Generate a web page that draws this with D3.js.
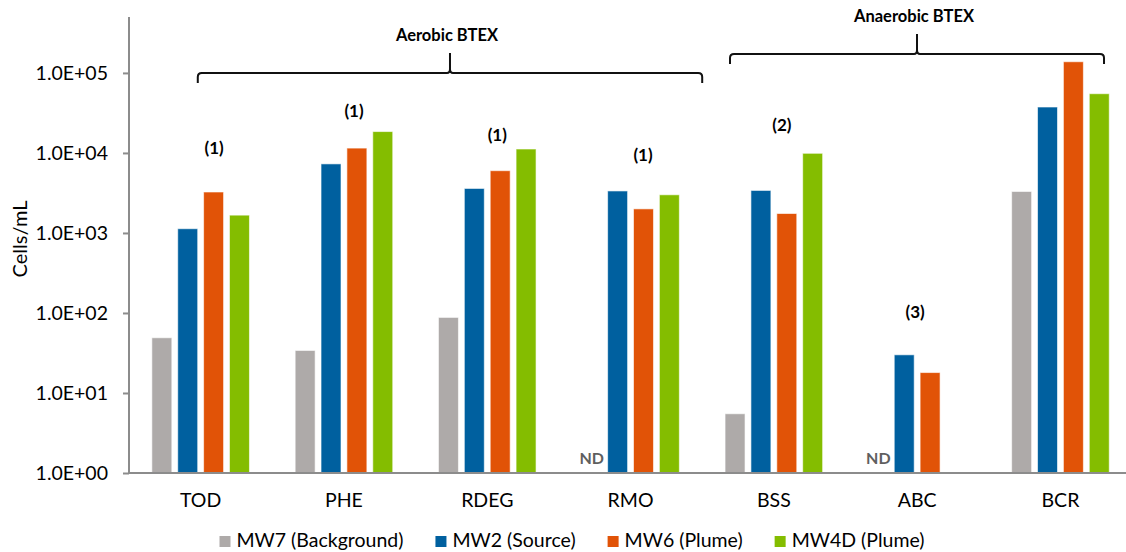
<!DOCTYPE html>
<html><head><meta charset="utf-8">
<script src="https://cdn.jsdelivr.net/npm/d3@7"></script>
<style>body{margin:0;background:#fff}svg{display:block}text{font-family:Lato,"Open Sans",sans-serif}</style>
</head><body><svg id="c" width="1126" height="552"></svg>
<script>
const categories = ["TOD","PHE","RDEG","RMO","BSS","ABC","BCR"];
const seriesNames = ["MW7 (Background)","MW2 (Source)","MW6 (Plume)","MW4D (Plume)"];
const seriesColors = ["#aeaaa9","#00609f","#e15307","#84bd00"];
// null = ND / not shown
const mw7  = [49, 34, 88, null, 5.5, null, 3300];
const mw2  = [1130, 7300, 3600, 3350, 3400, 30, 37500];
const mw6  = [3250, 11500, 6000, 2000, 1750, 18, 138000];
const mw4d = [1670, 18500, 11200, 3000, 9900, null, 55000];
const ndLabels = [null, null, null, "ND", null, "ND", null];
const tickValues = [1, 10, 100, 1000, 10000, 100000];
const tickLabels = ["1.0E+00","1.0E+01","1.0E+02","1.0E+03","1.0E+04","1.0E+05"];
const noteCats = ["TOD","PHE","RDEG","RMO","BSS","ABC"];
const noteText = ["(1)","(1)","(1)","(1)","(2)","(3)"];
const noteLevel = [10900, 31600, 15800, 8900, 21100, 97];
const noteShift = [0.094, 0.07, 0.07, 0.087, 0.056, -0.014];
const groupNames = ["Aerobic BTEX","Anaerobic BTEX"];
const groupStart = ["TOD","BSS"], groupStartFrac = [0.48, 0.194];
const groupEnd = ["RMO","BCR"], groupEndFrac = [1.0, 0.804];
const groupLevel = [100000, 172000];

const seriesValues = [mw7, mw2, mw6, mw4d];
const svg = d3.select("#c");
const L = 129, B = 473, T = 17;
const x = d3.scaleBand().domain(categories).range([L, L + 7*143.3]).padding(0);
const inner = 143.3 - 2*22.85;
const x1 = d3.scaleBand().domain(d3.range(4)).range([22.85, 22.85 + inner]).paddingInner(0.228).paddingOuter(0);
const y = d3.scaleLog().domain([1, 5e5]).range([B, T]);

// y axis
const yAxis = d3.axisLeft(y).tickValues(tickValues).tickFormat((d,i)=>tickLabels[i]).tickSize(6).tickPadding(15);
const ga = svg.append("g").attr("transform",`translate(${L},0)`).call(yAxis);
ga.select(".domain").remove();
ga.selectAll(".tick line").attr("stroke","#8c8c8c").attr("stroke-width",2);
ga.selectAll(".tick text").attr("font-size",19.5).attr("fill","#000").attr("font-family","Lato");
svg.append("line").attr("x1",L).attr("x2",L).attr("y1",y(5e5)).attr("y2",B).attr("stroke","#8c8c8c").attr("stroke-width",2);

// bars
categories.forEach((c,i)=>{
  seriesValues.forEach((arr,s)=>{
    const v = arr[i];
    if (v == null) return;
    svg.append("rect").attr("x",x(c)+x1(s)).attr("width",x1.bandwidth())
      .attr("y",y(v)).attr("height",B - y(v)).attr("fill",seriesColors[s])
      .attr("stroke","#fff").attr("stroke-opacity",0.6).attr("stroke-width",1);
  });
  if (ndLabels[i]) {
    svg.append("text").attr("x",x(c)+x1(0)+x1.bandwidth()/2).attr("y",B-13)
      .attr("text-anchor","middle").attr("dominant-baseline","middle")
      .attr("font-weight","bold").attr("font-size",16).attr("fill","#5f5f5f").text(ndLabels[i]);
  }
});

// x baseline
svg.append("line").attr("x1",L).attr("x2",1126).attr("y1",B).attr("y2",B).attr("stroke","#8c8c8c").attr("stroke-width",2);

// category labels
svg.selectAll(".cat").data(categories).join("text")
  .attr("x",d=>x(d)+x.bandwidth()/2).attr("y",502).attr("text-anchor","middle")
  .attr("dominant-baseline","middle").attr("font-size",19.5).attr("fill","#000").text(d=>d);

// annotations
noteCats.forEach((c,i)=>{
  svg.append("text").attr("x",x(c)+x.bandwidth()*(0.5+noteShift[i])).attr("y",y(noteLevel[i]))
    .attr("text-anchor","middle").attr("dominant-baseline","middle")
    .attr("font-weight","bold").attr("font-size",17).attr("fill","#000").text(noteText[i]);
});

// brackets
groupNames.forEach((g,i)=>{
  const x0 = x(groupStart[i]) + x.bandwidth()*groupStartFrac[i];
  const xe = x(groupEnd[i]) + x.bandwidth()*groupEndFrac[i];
  const xm = (x0+xe)/2;
  const yy = y(groupLevel[i]);
  const p = `M${x0},${yy+10} L${x0},${yy+4} Q${x0},${yy} ${x0+4},${yy} L${xm-3},${yy} Q${xm},${yy} ${xm},${yy-4} L${xm},${yy-20}`+
            ` M${xm},${yy-4} Q${xm},${yy} ${xm+3},${yy} L${xe-4},${yy} Q${xe},${yy} ${xe},${yy+4} L${xe},${yy+10}`;
  svg.append("path").attr("d",p).attr("fill","none").attr("stroke","#111").attr("stroke-width",2);
  svg.append("text").attr("x",xm-3).attr("y",yy-36).attr("text-anchor","middle").attr("dominant-baseline","middle")
    .attr("font-weight","bold").attr("font-size",16.5).attr("fill","#000").text(g);
});

// y title
svg.append("text").attr("transform","translate(22,239) rotate(-90)").attr("text-anchor","middle")
  .attr("dominant-baseline","middle").attr("font-size",20).attr("fill","#000").text("Cells/mL");

// legend
const lg = svg.append("g");
let cx = 0;
seriesNames.forEach((n,s)=>{
  lg.append("rect").attr("x",cx).attr("y",536).attr("width",11).attr("height",11).attr("fill",seriesColors[s]);
  const t = lg.append("text").attr("x",cx+17).attr("y",542).attr("dominant-baseline","middle")
    .attr("font-size",19.5).attr("fill","#000").text(n);
  cx += 17 + t.node().getComputedTextLength() + 32;
});
const lw = cx - 32;
lg.attr("transform",`translate(${572 - lw/2},0)`);
</script></body></html>
